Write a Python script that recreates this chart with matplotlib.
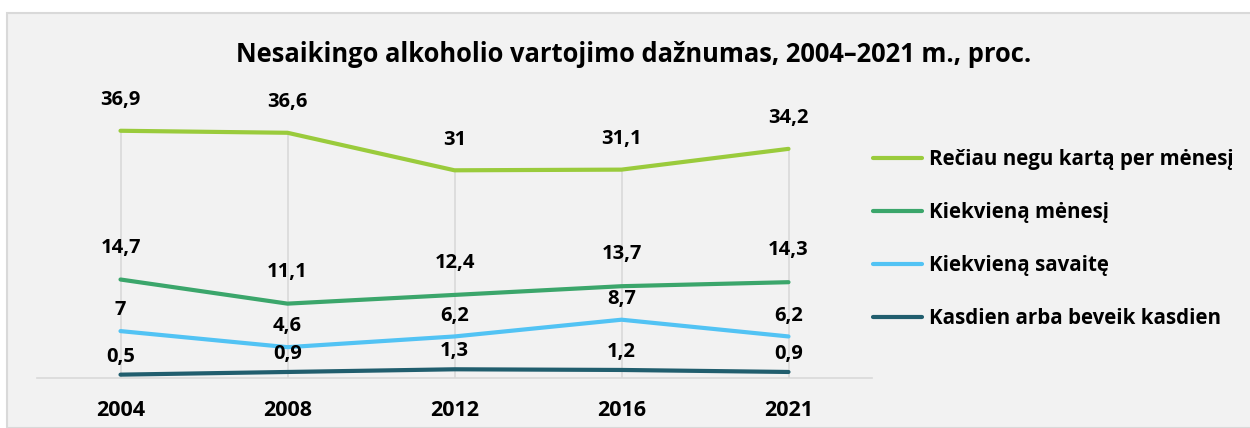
import matplotlib
matplotlib.use('Agg')
import matplotlib.pyplot as plt
from matplotlib.patches import Rectangle

plt.rcParams['font.family'] = ['Open Sans', 'DejaVu Sans']
plt.rcParams['font.weight'] = 'bold'

years = ['2004', '2008', '2012', '2016', '2021']
reciau = [36.9, 36.6, 31, 31.1, 34.2]
kas_menesi = [14.7, 11.1, 12.4, 13.7, 14.3]
kas_savaite = [7, 4.6, 6.2, 8.7, 6.2]
kasdien = [0.5, 0.9, 1.3, 1.2, 0.9]

series = [
    ('Rečiau negu kartą per mėnesį', reciau, '#9acb3c', 22),
    ('Kiekvieną mėnesį', kas_menesi, '#3ba66b', 23),
    ('Kiekvieną savaitę', kas_savaite, '#52c3f4', 15),
    ('Kasdien arba beveik kasdien', kasdien, '#215e6e', 13),
]

def fmt(v):
    s = '{:g}'.format(v)
    return s.replace('.', ',')

fig = plt.figure(figsize=(12.5, 4.28), dpi=100)
fig.patches.append(Rectangle((7 / 1250, 0), 1, 1 - 13 / 428, transform=fig.transFigure,
                             facecolor='#f2f2f2', edgecolor='#d9d9d9', linewidth=1.5, zorder=-5))

ax = fig.add_axes([37 / 1250, 50 / 428, 835 / 1250, 268 / 428])
ax.patch.set_alpha(0)
x = list(range(len(years)))

# drop lines from the top series to the axis
tops = [max(vals) for vals in zip(reciau, kas_menesi, kas_savaite, kasdien)]
ax.vlines(x, 0, tops, color='#d9d9d9', linewidth=1.2, zorder=1)

for name, vals, color, off in series:
    ax.plot(x, vals, color=color, linewidth=3, solid_capstyle='round', label=name, zorder=3)
    for xi, v in zip(x, vals):
        ax.annotate(fmt(v), (xi, v), xytext=(0, off), textcoords='offset points',
                    ha='center', va='center', fontsize=14.5, fontweight='bold', color='black', zorder=4)

ax.set_xlim(-0.5, 4.5)
ax.set_ylim(0, 40)
ax.set_xticks(x)
ax.set_xticklabels(years, fontsize=15.5, fontweight='bold')
ax.tick_params(axis='x', length=0, pad=16)
ax.set_yticks([])
for side in ['top', 'right', 'left']:
    ax.spines[side].set_visible(False)
ax.spines['bottom'].set_color('#d9d9d9')
ax.spines['bottom'].set_linewidth(1.2)

fig.text(0.507, 1 - 55 / 428, 'Nesaikingo alkoholio vartojimo dažnumas, 2004–2021 m., proc.',
         ha='center', va='center', fontsize=18.4, fontweight='bold')

leg = fig.legend(loc='center left', bbox_to_anchor=(854 / 1250, 1 - 239 / 428), frameon=False,
                 fontsize=14.8, handlelength=2.4, handletextpad=0.35, labelspacing=1.55)
for t in leg.get_texts():
    t.set_fontweight('bold')

fig.savefig('out.png', dpi=100)
